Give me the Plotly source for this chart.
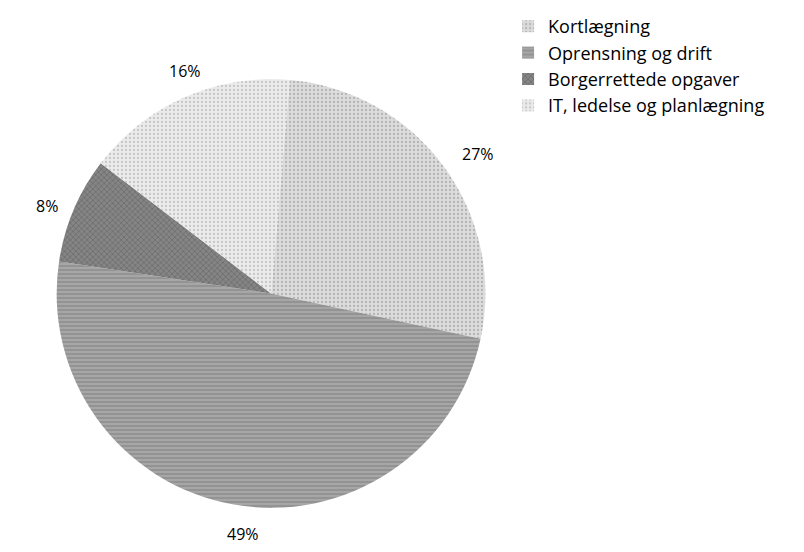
import math
import plotly.graph_objects as go

labels = ["Kortlægning", "Oprensning og drift", "Borgerrettede opgaver", "IT, ledelse og planlægning"]
values = [27, 49, 8, 16]
text_labels = ["27%", "49%", "8%", "16%"]
fill_colors = ["#dcdcdc", "#a6a6a6", "#858585", "#ebebeb"]
pattern_fg = ["#8a8a8a", "#5a5a5a", "#3a3a3a", "#a0a0a0"]
pattern_shapes = [".", "-", "x", "."]

W, H = 804, 552
margin = dict(l=0, r=0, t=71, b=52, autoexpand=False)
dom_x = [0.0605, 0.5938]
rotation = 5
font_family = "Open Sans, Noto Sans, sans-serif"

fig = go.Figure(go.Pie(
    labels=labels,
    values=values,
    sort=False,
    direction="clockwise",
    rotation=rotation,
    textinfo="none",
    hoverinfo="label+percent",
    domain=dict(x=dom_x, y=[0, 1]),
    marker=dict(
        colors=fill_colors,
        line=dict(width=0),
        pattern=dict(shape=pattern_shapes, fgcolor=pattern_fg, size=4,
                     solidity=0.25, fillmode="overlay"),
    ),
))

# percentage labels placed around the pie from the data angles (paper coords)
plot_h = H - margin["t"] - margin["b"]
plot_w = W - margin["l"] - margin["r"]
cx = plot_w * (dom_x[0] + dom_x[1]) / 2
cy = plot_h / 2
R = min(plot_w * (dom_x[1] - dom_x[0]), plot_h) / 2
total = sum(values)
cum = 0
for v, t in zip(values, text_labels):
    mid = rotation + 360 * (cum + v / 2) / total
    cum += v
    a = math.radians(mid)
    rr = R * 1.2
    px = cx + rr * math.sin(a)
    py = cy - rr * math.cos(a)
    fig.add_annotation(x=px / plot_w, y=1 - py / plot_h, xref="paper", yref="paper",
                       text=t, showarrow=False,
                       font=dict(family=font_family, size=16, color="#000000"))

fig.update_layout(
    width=W, height=H,
    margin=margin,
    paper_bgcolor="white",
    plot_bgcolor="white",
    font=dict(family=font_family, size=18, color="#000000"),
    legend=dict(x=0.622, xanchor="left", y=1.028, yanchor="top", yref="container",
                font=dict(size=18), itemwidth=30, tracegroupgap=0,
                bgcolor="rgba(0,0,0,0)"),
)

fig.write_html("out.html")
